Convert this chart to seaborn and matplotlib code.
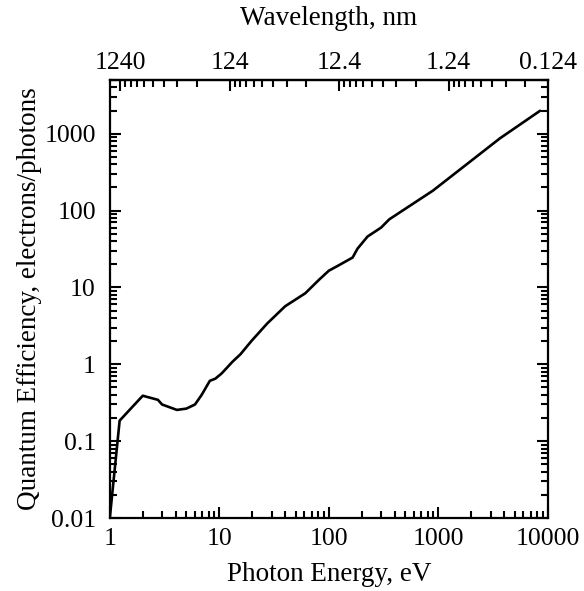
import seaborn as sns
import matplotlib.pyplot as plt
import matplotlib.ticker as mticker
import numpy as np

# Photon energy (eV) and quantum efficiency
energy = [1.0, 1.23, 2.0, 2.75, 3.0, 4.1, 5.0, 6.0, 6.9, 8.2, 9.2, 10.5, 13.2,
          15.6, 19.6, 27.4, 40, 61, 81, 100, 124, 165, 183, 226, 300, 357,
          650, 894, 3650, 8500]
qe = [0.01, 0.185, 0.39, 0.345, 0.30, 0.255, 0.265, 0.30, 0.40, 0.61, 0.65,
      0.76, 1.08, 1.35, 2.0, 3.4, 5.7, 8.4, 12.5, 16.5, 19.5, 24.5, 32, 46,
      60, 77, 135, 182, 870, 1990]

# top axis (wavelength) tick positions and labels
wl_ticks = [1000, 100, 10, 1, 0.124]
wl_labels = ['1240', '124', '12.4', '1.24', '0.124']

sns.set_style('ticks', {'axes.edgecolor': 'black', 'text.color': 'black',
                        'axes.labelcolor': 'black', 'xtick.color': 'black',
                        'ytick.color': 'black'})
plt.rcParams['font.family'] = ['Liberation Serif', 'DejaVu Serif']

fig = plt.figure(figsize=(5.84, 5.91), dpi=100)
ax = fig.add_axes([0.188, 0.1235, 0.75, 0.7411])

sns.lineplot(x=energy, y=qe, ax=ax, color='black', linewidth=1.9,
             sort=False, estimator=None)

ax.set_xscale('log')
ax.set_yscale('log')
ax.set_xlim(1, 10000)
ax.set_ylim(0.01, 5000)

ax.xaxis.set_major_locator(mticker.FixedLocator([1, 10, 100, 1000, 10000]))
ax.xaxis.set_major_formatter(mticker.FixedFormatter(['1', '10', '100', '1000', '10000']))
ax.xaxis.set_minor_locator(mticker.LogLocator(base=10, subs=np.arange(2, 10)))
ax.xaxis.set_minor_formatter(mticker.NullFormatter())
ax.yaxis.set_major_locator(mticker.FixedLocator([0.01, 0.1, 1, 10, 100, 1000]))
ax.yaxis.set_major_formatter(mticker.FixedFormatter(['0.01', '0.1', '1', '10', '100', '1000']))
ax.yaxis.set_minor_locator(mticker.LogLocator(base=10, subs=np.arange(2, 10)))
ax.yaxis.set_minor_formatter(mticker.NullFormatter())

ax.tick_params(which='both', direction='in', right=True, top=False,
               labelsize=18.5, width=1.5, color='black', labelcolor='black')
ax.tick_params(which='major', length=8)
ax.tick_params(which='minor', length=5)
ax.tick_params(axis='x', which='major', pad=7)
ax.tick_params(axis='y', which='major', pad=10)
for s in ax.spines.values():
    s.set_visible(True)
    s.set_linewidth(1.6)
    s.set_color('black')

ax.set_xlabel('Photon Energy, eV', fontsize=19.5, labelpad=9, color='black')
ax.set_ylabel('Quantum Efficiency, electrons/photons', fontsize=19.5,
              labelpad=2, color='black')


def e_to_wl(e):
    e = np.asarray(e, dtype=float)
    with np.errstate(divide='ignore'):
        return 1240.0 / e


secax = ax.secondary_xaxis('top', functions=(e_to_wl, e_to_wl))
secax.set_xticks(wl_ticks, labels=wl_labels)
secax.xaxis.set_minor_formatter(mticker.NullFormatter())
secax.tick_params(which='both', direction='in', labelsize=18.5, width=1.5,
                  color='black', labelcolor='black')
secax.tick_params(which='major', length=8, pad=4)
secax.tick_params(which='minor', length=5)
secax.spines['top'].set_linewidth(1.6)
secax.spines['top'].set_color('black')
secax.set_xlabel('Wavelength, nm', fontsize=19.5, labelpad=20, color='black')

fig.savefig('out.png', dpi=100)
